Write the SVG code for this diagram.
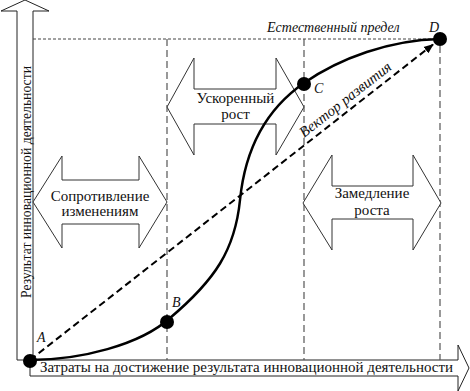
<svg xmlns="http://www.w3.org/2000/svg" width="470" height="391" viewBox="0 0 470 391">
<style>
.ax{fill:#fff;stroke:#222;stroke-width:1}
.blk{fill:#fff;stroke:#333;stroke-width:1}
.grid{fill:none;stroke:#555;stroke-width:1.2;stroke-dasharray:7,4}
.top{fill:none;stroke:#444;stroke-width:1;stroke-dasharray:3,2}
.t{font-family:'Liberation Serif','DejaVu Serif',serif;font-size:14px;fill:#111}
.l{font-size:15px}
.c{text-anchor:middle}
.i{font-style:italic}
.dot{fill:#000}
</style>
<defs>
<marker id="ah" viewBox="0 0 10 10" refX="9" refY="5" markerWidth="5" markerHeight="5" orient="auto" markerUnits="strokeWidth">
<path d="M0,1 L10,5 L0,9 Z" fill="#000"/>
</marker>
</defs>
<g id="axes">
<path class="ax" d="M17,360 L17,11 L1,11 L25,0 L49,11 L33,11 L33,360"/>
<path class="ax" d="M17,360 L458,360 L458,345 L469,368 L458,391 L458,376 L30,376 L30,360"/>
<text class="t" transform="translate(31,182) rotate(-90)" text-anchor="middle" textLength="232" lengthAdjust="spacingAndGlyphs">Результат инновационной деятельности</text>
<text class="t" x="40" y="372" textLength="413" lengthAdjust="spacingAndGlyphs">Затраты на достижение результата инновационной деятельности</text>
</g>
<g id="grid">
<line class="top" x1="33" y1="39" x2="440" y2="39"/>
<line class="grid" x1="167" y1="39" x2="167" y2="360"/>
<line class="grid" x1="304" y1="39" x2="304" y2="360"/>
<line class="grid" x1="440" y1="46" x2="440" y2="360"/>
</g>
<g id="resistance">
<path class="blk" d="M33,202 L62,156 L62,180 L139,180 L139,156 L167,202 L139,248 L139,224 L62,224 L62,248 Z"/>
<text class="t l c" x="100" y="201">Сопротивление</text>
<text class="t l c" x="100" y="216">изменениям</text>
</g>
<g id="growth">
<path class="blk" d="M167,107 L194,58 L194,89 L276,89 L276,58 L304,107 L276,155 L276,124 L194,124 L194,155 Z"/>
<text class="t l c" x="235.5" y="103">Ускоренный</text>
<text class="t l c" x="235.5" y="119">рост</text>
</g>
<g id="slowdown">
<path class="blk" d="M303,203 L332,155 L332,186 L413,186 L413,155 L441,203 L413,250 L413,219 L332,219 L332,250 Z"/>
<text class="t l c" x="372" y="198">Замедление</text>
<text class="t l c" x="372" y="215">роста</text>
</g>
<g id="connectors">
<line x1="30" y1="360" x2="433" y2="44.5" stroke="#000" stroke-width="2" stroke-dasharray="7,4" marker-end="url(#ah)"/>
<path d="M30,360 C80,360 140,345 170,318 C215,280 235,250 240,200 C245,150 265,110 304,83 C340,58 390,40 440,39" fill="none" stroke="#000" stroke-width="2.5"/>
</g>
<g id="A"><circle class="dot" cx="30" cy="361" r="7"/><text class="t i" x="37" y="342">A</text></g>
<g id="B"><circle class="dot" cx="167" cy="322" r="7"/><text class="t i" x="172" y="307">B</text></g>
<g id="C"><circle class="dot" cx="304" cy="84" r="7"/><text class="t i" x="314" y="93">C</text></g>
<g id="D"><circle class="dot" cx="440" cy="39" r="7"/><text class="t i" x="429" y="32">D</text></g>
<text class="t i" x="267" y="32">Естественный предел</text>
<text class="t l i c" transform="translate(352,108) rotate(-38.06)" y="-6">Вектор развития</text>
</svg>
